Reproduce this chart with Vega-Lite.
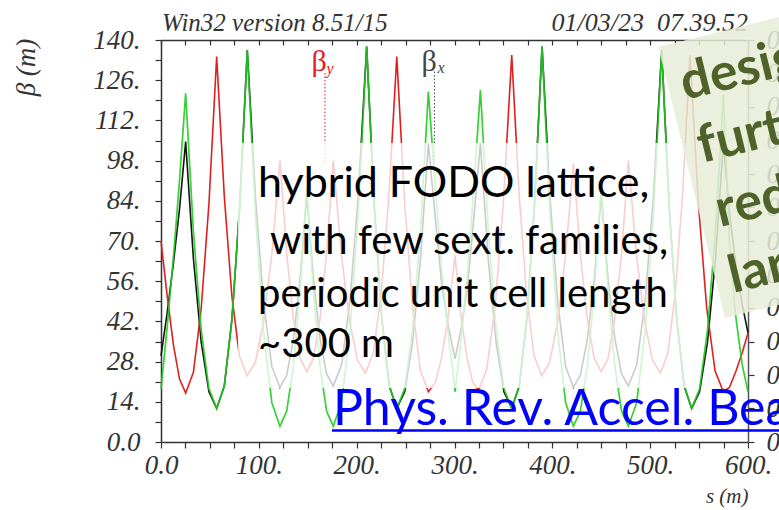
{
  "$schema": "https://vega.github.io/schema/vega-lite/v6.json",
  "width": 587,
  "height": 402,
  "autosize": {"type": "none"},
  "padding": {"left": 161, "top": 40, "right": 31, "bottom": 68},
  "background": "white",
  "config": {
    "view": {"stroke": null},
    "axis": {"grid": false, "labelFont": "Liberation Serif", "labelFontStyle": "italic", "labelColor": "#333", "tickColor": "#333", "domainColor": "#333", "titleFont": "Liberation Serif", "titleFontStyle": "italic", "titleFontWeight": "normal", "titleColor": "#333"}
  },
  "datasets": {
    "beta": [
      {"curve": "bx", "s": 0, "beta": 30}, {"curve": "bx", "s": 6.3, "beta": 45}, {"curve": "bx", "s": 12.6, "beta": 62}, {"curve": "bx", "s": 18.9, "beta": 81},
      {"curve": "bx", "s": 25.2, "beta": 104.6}, {"curve": "bx", "s": 33.1, "beta": 64}, {"curve": "bx", "s": 41.05, "beta": 34.9}, {"curve": "bx", "s": 48.98, "beta": 17.5},
      {"curve": "bx", "s": 56.9, "beta": 11.7}, {"curve": "bx", "s": 64.7, "beta": 19.5}, {"curve": "bx", "s": 72.55, "beta": 42.9}, {"curve": "bx", "s": 80.4, "beta": 81.9},
      {"curve": "bx", "s": 88.2, "beta": 136.5}, {"curve": "bx", "s": 96.55, "beta": 85.1}, {"curve": "bx", "s": 104.9, "beta": 48.4}, {"curve": "bx", "s": 113.25, "beta": 26.3},
      {"curve": "bx", "s": 121.6, "beta": 19}, {"curve": "bx", "s": 128.45, "beta": 23.2}, {"curve": "bx", "s": 135.3, "beta": 35.75}, {"curve": "bx", "s": 142.15, "beta": 56.7},
      {"curve": "bx", "s": 149, "beta": 86}, {"curve": "bx", "s": 155.8, "beta": 56.9}, {"curve": "bx", "s": 162.55, "beta": 36.1}, {"curve": "bx", "s": 169.3, "beta": 23.7},
      {"curve": "bx", "s": 176.1, "beta": 19.5}, {"curve": "bx", "s": 184.6, "beta": 26.9}, {"curve": "bx", "s": 193.15, "beta": 49.05}, {"curve": "bx", "s": 201.7, "beta": 86},
      {"curve": "bx", "s": 210.2, "beta": 137.7}, {"curve": "bx", "s": 217.9, "beta": 82.6}, {"curve": "bx", "s": 225.6, "beta": 43.2}, {"curve": "bx", "s": 233.3, "beta": 19.6},
      {"curve": "bx", "s": 241, "beta": 11.7}, {"curve": "bx", "s": 249.1, "beta": 17.5}, {"curve": "bx", "s": 257.15, "beta": 34.8}, {"curve": "bx", "s": 265.2, "beta": 63.6},
      {"curve": "bx", "s": 273.3, "beta": 104}, {"curve": "bx", "s": 280.1, "beta": 79}, {"curve": "bx", "s": 286.95, "beta": 55}, {"curve": "bx", "s": 293.8, "beta": 40},
      {"curve": "bx", "s": 300.6, "beta": 29}, {"curve": "bx", "s": 307.1, "beta": 40}, {"curve": "bx", "s": 313.55, "beta": 55}, {"curve": "bx", "s": 320, "beta": 79},
      {"curve": "bx", "s": 326.5, "beta": 104}, {"curve": "bx", "s": 334.5, "beta": 63.6}, {"curve": "bx", "s": 342.5, "beta": 34.8}, {"curve": "bx", "s": 350.5, "beta": 17.5},
      {"curve": "bx", "s": 358.5, "beta": 11.7}, {"curve": "bx", "s": 366.25, "beta": 19.6}, {"curve": "bx", "s": 374, "beta": 43.2}, {"curve": "bx", "s": 381.75, "beta": 82.6},
      {"curve": "bx", "s": 389.5, "beta": 137.7}, {"curve": "bx", "s": 397.5, "beta": 85.8}, {"curve": "bx", "s": 405.5, "beta": 48.7}, {"curve": "bx", "s": 413.5, "beta": 26.4},
      {"curve": "bx", "s": 421.5, "beta": 19}, {"curve": "bx", "s": 428.6, "beta": 23.2}, {"curve": "bx", "s": 435.75, "beta": 35.75}, {"curve": "bx", "s": 442.9, "beta": 56.7},
      {"curve": "bx", "s": 450, "beta": 86}, {"curve": "bx", "s": 456.9, "beta": 56.9}, {"curve": "bx", "s": 463.85, "beta": 36.1}, {"curve": "bx", "s": 470.8, "beta": 23.7},
      {"curve": "bx", "s": 477.7, "beta": 19.5}, {"curve": "bx", "s": 486.2, "beta": 26.8}, {"curve": "bx", "s": 494.75, "beta": 48.75}, {"curve": "bx", "s": 503.3, "beta": 85.3},
      {"curve": "bx", "s": 511.8, "beta": 136.5}, {"curve": "bx", "s": 519.45, "beta": 81.9}, {"curve": "bx", "s": 527.1, "beta": 42.9}, {"curve": "bx", "s": 534.75, "beta": 19.5},
      {"curve": "bx", "s": 542.4, "beta": 11.7}, {"curve": "bx", "s": 550.5, "beta": 17.5}, {"curve": "bx", "s": 558.6, "beta": 34.8}, {"curve": "bx", "s": 566.7, "beta": 63.6},
      {"curve": "bx", "s": 574.8, "beta": 104}, {"curve": "bx", "s": 581, "beta": 80}, {"curve": "bx", "s": 587.5, "beta": 62}, {"curve": "bx", "s": 594, "beta": 48},
      {"curve": "bx", "s": 600, "beta": 38},

      {"curve": "by", "s": 0, "beta": 70}, {"curve": "by", "s": 6.3, "beta": 51}, {"curve": "by", "s": 12.6, "beta": 34}, {"curve": "by", "s": 18.9, "beta": 22},
      {"curve": "by", "s": 25.2, "beta": 17}, {"curve": "by", "s": 33.1, "beta": 24.3}, {"curve": "by", "s": 41.05, "beta": 46.3}, {"curve": "by", "s": 48.98, "beta": 82.9},
      {"curve": "by", "s": 56.9, "beta": 134.2}, {"curve": "by", "s": 64.7, "beta": 85.55}, {"curve": "by", "s": 72.45, "beta": 50.8}, {"curve": "by", "s": 80.2, "beta": 29.95},
      {"curve": "by", "s": 88, "beta": 23}, {"curve": "by", "s": 96.4, "beta": 27.7}, {"curve": "by", "s": 104.8, "beta": 41.75}, {"curve": "by", "s": 113.2, "beta": 65.2},
      {"curve": "by", "s": 121.6, "beta": 98}, {"curve": "by", "s": 128.45, "beta": 65.8}, {"curve": "by", "s": 135.3, "beta": 42.9}, {"curve": "by", "s": 142.15, "beta": 29.1},
      {"curve": "by", "s": 149, "beta": 24.5}, {"curve": "by", "s": 155.8, "beta": 29.1}, {"curve": "by", "s": 162.55, "beta": 42.9}, {"curve": "by", "s": 169.3, "beta": 65.8},
      {"curve": "by", "s": 176.1, "beta": 98}, {"curve": "by", "s": 184.3, "beta": 65.6}, {"curve": "by", "s": 192.55, "beta": 42.5}, {"curve": "by", "s": 200.8, "beta": 28.6},
      {"curve": "by", "s": 209, "beta": 24}, {"curve": "by", "s": 217, "beta": 30.9}, {"curve": "by", "s": 225, "beta": 51.55}, {"curve": "by", "s": 233, "beta": 86},
      {"curve": "by", "s": 241, "beta": 134.2}, {"curve": "by", "s": 249.1, "beta": 83.1}, {"curve": "by", "s": 257.15, "beta": 46.7}, {"curve": "by", "s": 265.2, "beta": 24.8},
      {"curve": "by", "s": 273.3, "beta": 17.5}, {"curve": "by", "s": 280.1, "beta": 20.5}, {"curve": "by", "s": 286.9, "beta": 29.4}, {"curve": "by", "s": 293.7, "beta": 44.2},
      {"curve": "by", "s": 300.5, "beta": 65}, {"curve": "by", "s": 306.5, "beta": 44.4}, {"curve": "by", "s": 312.5, "beta": 29.9}, {"curve": "by", "s": 318.5, "beta": 20.9},
      {"curve": "by", "s": 324.5, "beta": 18}, {"curve": "by", "s": 333, "beta": 25.3}, {"curve": "by", "s": 341.5, "beta": 47.2}, {"curve": "by", "s": 350, "beta": 83.7},
      {"curve": "by", "s": 358.5, "beta": 134.8}, {"curve": "by", "s": 366.1, "beta": 85.9}, {"curve": "by", "s": 373.75, "beta": 50.95}, {"curve": "by", "s": 381.4, "beta": 30},
      {"curve": "by", "s": 389, "beta": 23}, {"curve": "by", "s": 397.1, "beta": 27.6}, {"curve": "by", "s": 405.25, "beta": 41.5}, {"curve": "by", "s": 413.4, "beta": 64.6},
      {"curve": "by", "s": 421.5, "beta": 97}, {"curve": "by", "s": 428.6, "beta": 65.3}, {"curve": "by", "s": 435.75, "beta": 42.6}, {"curve": "by", "s": 442.9, "beta": 29},
      {"curve": "by", "s": 450, "beta": 24.5}, {"curve": "by", "s": 456.9, "beta": 29.1}, {"curve": "by", "s": 463.85, "beta": 42.9}, {"curve": "by", "s": 470.8, "beta": 65.8},
      {"curve": "by", "s": 477.7, "beta": 98}, {"curve": "by", "s": 485.9, "beta": 65.6}, {"curve": "by", "s": 494.1, "beta": 42.5}, {"curve": "by", "s": 502.3, "beta": 28.6},
      {"curve": "by", "s": 510.5, "beta": 24}, {"curve": "by", "s": 518.05, "beta": 30.9}, {"curve": "by", "s": 525.6, "beta": 51.7}, {"curve": "by", "s": 533.15, "beta": 86.3},
      {"curve": "by", "s": 540.7, "beta": 134.8}, {"curve": "by", "s": 549.2, "beta": 83.5}, {"curve": "by", "s": 557.75, "beta": 46.8}, {"curve": "by", "s": 566.3, "beta": 24.8},
      {"curve": "by", "s": 574.8, "beta": 17.5}, {"curve": "by", "s": 581, "beta": 19}, {"curve": "by", "s": 588, "beta": 25}, {"curve": "by", "s": 594, "beta": 31},
      {"curve": "by", "s": 600, "beta": 38},

      {"curve": "bx2", "s": 0, "beta": 18.5}, {"curve": "bx2", "s": 6.3, "beta": 40}, {"curve": "bx2", "s": 12.6, "beta": 64}, {"curve": "bx2", "s": 18.9, "beta": 91},
      {"curve": "bx2", "s": 25.2, "beta": 121.4}, {"curve": "bx2", "s": 33.1, "beta": 73.4}, {"curve": "bx2", "s": 41.05, "beta": 39.1}, {"curve": "bx2", "s": 48.98, "beta": 18.6},
      {"curve": "bx2", "s": 56.9, "beta": 11.7}, {"curve": "bx2", "s": 64.7, "beta": 19.5}, {"curve": "bx2", "s": 72.55, "beta": 42.9}, {"curve": "bx2", "s": 80.4, "beta": 81.9},
      {"curve": "bx2", "s": 88.2, "beta": 136.5}, {"curve": "bx2", "s": 96.55, "beta": 79.2}, {"curve": "bx2", "s": 104.9, "beta": 38.25}, {"curve": "bx2", "s": 113.25, "beta": 13.7},
      {"curve": "bx2", "s": 121.6, "beta": 5.5}, {"curve": "bx2", "s": 128.45, "beta": 10.7}, {"curve": "bx2", "s": 135.3, "beta": 26.4}, {"curve": "bx2", "s": 142.15, "beta": 52.5},
      {"curve": "bx2", "s": 149, "beta": 89}, {"curve": "bx2", "s": 155.8, "beta": 52.5}, {"curve": "bx2", "s": 162.55, "beta": 26.4}, {"curve": "bx2", "s": 169.3, "beta": 10.7},
      {"curve": "bx2", "s": 176.1, "beta": 5.5}, {"curve": "bx2", "s": 184.6, "beta": 13.8}, {"curve": "bx2", "s": 193.15, "beta": 38.5}, {"curve": "bx2", "s": 201.7, "beta": 79.9},
      {"curve": "bx2", "s": 210.2, "beta": 137.7}, {"curve": "bx2", "s": 217.9, "beta": 82.6}, {"curve": "bx2", "s": 225.6, "beta": 43.2}, {"curve": "bx2", "s": 233.3, "beta": 19.6},
      {"curve": "bx2", "s": 241, "beta": 11.7}, {"curve": "bx2", "s": 249.1, "beta": 18.6}, {"curve": "bx2", "s": 257.15, "beta": 39.3}, {"curve": "bx2", "s": 265.2, "beta": 73.7},
      {"curve": "bx2", "s": 273.3, "beta": 122}, {"curve": "bx2", "s": 280.1, "beta": 90}, {"curve": "bx2", "s": 286.95, "beta": 60}, {"curve": "bx2", "s": 293.8, "beta": 37},
      {"curve": "bx2", "s": 300.6, "beta": 17.5}, {"curve": "bx2", "s": 307.1, "beta": 37}, {"curve": "bx2", "s": 313.55, "beta": 60}, {"curve": "bx2", "s": 320, "beta": 90},
      {"curve": "bx2", "s": 326.5, "beta": 122.6}, {"curve": "bx2", "s": 334.5, "beta": 74.1}, {"curve": "bx2", "s": 342.5, "beta": 39.4}, {"curve": "bx2", "s": 350.5, "beta": 18.6},
      {"curve": "bx2", "s": 358.5, "beta": 11.7}, {"curve": "bx2", "s": 366.25, "beta": 19.6}, {"curve": "bx2", "s": 374, "beta": 43.2}, {"curve": "bx2", "s": 381.75, "beta": 82.6},
      {"curve": "bx2", "s": 389.5, "beta": 137.7}, {"curve": "bx2", "s": 397.5, "beta": 79.9}, {"curve": "bx2", "s": 405.5, "beta": 38.5}, {"curve": "bx2", "s": 413.5, "beta": 13.8},
      {"curve": "bx2", "s": 421.5, "beta": 5.5}, {"curve": "bx2", "s": 428.6, "beta": 10.7}, {"curve": "bx2", "s": 435.75, "beta": 26.4}, {"curve": "bx2", "s": 442.9, "beta": 52.5},
      {"curve": "bx2", "s": 450, "beta": 89}, {"curve": "bx2", "s": 456.9, "beta": 52.5}, {"curve": "bx2", "s": 463.85, "beta": 26.4}, {"curve": "bx2", "s": 470.8, "beta": 10.7},
      {"curve": "bx2", "s": 477.7, "beta": 5.5}, {"curve": "bx2", "s": 486.2, "beta": 13.7}, {"curve": "bx2", "s": 494.75, "beta": 38.25}, {"curve": "bx2", "s": 503.3, "beta": 79.2},
      {"curve": "bx2", "s": 511.8, "beta": 136.5}, {"curve": "bx2", "s": 519.45, "beta": 81.9}, {"curve": "bx2", "s": 527.1, "beta": 42.9}, {"curve": "bx2", "s": 534.75, "beta": 19.5},
      {"curve": "bx2", "s": 542.4, "beta": 11.7}, {"curve": "bx2", "s": 550.5, "beta": 18.5}, {"curve": "bx2", "s": 558.6, "beta": 39}, {"curve": "bx2", "s": 566.7, "beta": 73.1},
      {"curve": "bx2", "s": 574.8, "beta": 120.8}, {"curve": "bx2", "s": 581, "beta": 70}, {"curve": "bx2", "s": 587, "beta": 45}, {"curve": "bx2", "s": 594, "beta": 27},
      {"curve": "bx2", "s": 600, "beta": 17.5}
    ],
    "legendLines": [
      {"kind": "by", "s": 167.6, "top": 128.5, "bottom": 97},
      {"kind": "bx", "s": 279.5, "top": 129, "bottom": 97}
    ],
    "notes": [
      {"kind": "header", "s": 1, "beta": 143.2, "text": "Win32 version 8.51/15"},
      {"kind": "stamp", "s": 600, "beta": 143.2, "text": "01/03/23\u00a0 07.39.52"},
      {"kind": "betaY", "s": 153.8, "beta": 129.2, "text": "β"},
      {"kind": "subY", "s": 169.2, "beta": 128.2, "text": "y"},
      {"kind": "betaX", "s": 266.3, "beta": 129.2, "text": "β"},
      {"kind": "subX", "s": 282.6, "beta": 128.4, "text": "x"},
      {"kind": "lead", "s": 99.2, "beta": 85.3, "text": "hybrid FODO lattice,"},
      {"kind": "body", "s": 111.4, "beta": 65.5, "text": "with few sext. families,"},
      {"kind": "body", "s": 99.2, "beta": 47.0, "text": "periodic unit cell length"},
      {"kind": "body", "s": 99.2, "beta": 29.6, "text": "~300 m"},
      {"kind": "link", "s": 175.8, "beta": 5.9, "text": "Phys. Rev. Accel. Beams"},
      {"kind": "boxed", "s": 535.6, "beta": 119.1, "text": "design"},
      {"kind": "boxed", "s": 553.0, "beta": 97.2, "text": "further"},
      {"kind": "boxed", "s": 571.4, "beta": 74.9, "text": "reduce"},
      {"kind": "boxed", "s": 584.7, "beta": 51.9, "text": "larger"}
    ],
    "panel": [
      {"s0": 78.7, "s1": 542.8, "b0": 18.8, "b1": 104.1}
    ],
    "underline": [
      {"s0": 174.8, "s1": 640, "beta": 4.0}
    ],
    "callout": [
      {"s": 508.3, "lo": 137.6, "hi": 137.6},
      {"s": 576.5, "lo": 43.2, "hi": 143.35},
      {"s": 660, "lo": 50.2, "hi": 150.4}
    ]
  },
  "resolve": {"axis": {"x": "independent", "y": "independent"}},
  "layer": [
    {
      "data": {"name": "beta"},
      "transform": [{"filter": "datum.curve === 'bx'"}],
      "mark": {"type": "line", "color": "#151515", "strokeWidth": 1.6},
      "encoding": {
        "x": {"field": "s", "type": "quantitative", "scale": {"domain": [0, 600], "nice": false, "zero": false},
          "axis": {"orient": "bottom", "values": [0, 25, 50, 75, 100, 125, 150, 175, 200, 225, 250, 275, 300, 325, 350, 375, 400, 425, 450, 475, 500, 525, 550, 575, 600],
            "labelExpr": "datum.value % 100 === 0 ? (datum.value === 0 ? '0.0' : datum.value + '.') : ''",
            "tickSize": 6, "tickWidth": 1.2, "domainWidth": 1.5, "labelFontSize": 27, "labelPadding": 4,
            "labelFlush": false, "labelOverlap": false, "labelBound": false,
            "title": "s (m)", "titleFontSize": 21, "titleX": 587, "titleY": 60, "titleAlign": "right", "titleBaseline": "alphabetic"}},
        "y": {"field": "beta", "type": "quantitative", "scale": {"domain": [0, 140], "nice": false},
          "axis": {"orient": "left", "values": [0, 7, 14, 21, 28, 35, 42, 49, 56, 63, 70, 77, 84, 91, 98, 105, 112, 119, 126, 133, 140],
            "labelExpr": "datum.value % 14 === 0 ? (datum.value === 0 ? '0.0' : datum.value + '.') : ''",
            "tickSize": 6, "tickWidth": 1.2, "domainWidth": 1.5, "labelFontSize": 27, "labelPadding": 15,
            "labelOverlap": false, "labelBound": false, "labelFlush": false,
            "title": "β (m)", "titleFontSize": 27, "titleAngle": 270, "titleX": -135, "titleY": 27, "titleAlign": "center", "titleBaseline": "middle"}}
      }
    },
    {
      "data": {"name": "beta"},
      "transform": [{"filter": "datum.curve === 'by'"}],
      "mark": {"type": "line", "color": "#e02020", "strokeWidth": 1.6},
      "encoding": {
        "x": {"field": "s", "type": "quantitative", "scale": {"domain": [0, 600], "nice": false, "zero": false},
          "axis": {"orient": "top", "values": [0, 25, 50, 75, 100, 125, 150, 175, 200, 225, 250, 275, 300, 325, 350, 375, 400, 425, 450, 475, 500, 525, 550, 575, 600],
            "labels": false, "tickSize": -5, "tickWidth": 1.2, "domainWidth": 1.5, "title": null}},
        "y": {"field": "beta", "type": "quantitative", "scale": {"domain": [0, 140], "nice": false},
          "axis": {"orient": "right", "values": [0, 11.6667, 23.3333, 35, 46.6667, 58.3333, 70, 81.6667, 93.3333, 105, 116.6667, 128.3333, 140],
            "labelExpr": "format(datum.value * 0.6 / 140, '.2f')", "labelAlign": "left",
            "tickSize": 6, "tickWidth": 1.2, "domainWidth": 1.5, "domainColor": "#555", "labelFontSize": 27, "labelPadding": 12,
            "labelOverlap": false, "labelBound": false, "labelFlush": false, "title": null}}
      }
    },
    {
      "data": {"name": "beta"},
      "transform": [{"filter": "datum.curve === 'bx2'"}],
      "mark": {"type": "line", "color": "#1fcc1f", "strokeWidth": 1.7, "opacity": 0.9},
      "encoding": {
        "x": {"field": "s", "type": "quantitative", "scale": {"domain": [0, 600], "nice": false, "zero": false}, "axis": null},
        "y": {"field": "beta", "type": "quantitative", "scale": {"domain": [0, 140], "nice": false}, "axis": null}
      }
    },
    {
      "data": {"name": "legendLines"},
      "mark": {"type": "rule", "strokeWidth": 1, "strokeDash": [1.5, 2]},
      "encoding": {
        "x": {"field": "s", "type": "quantitative", "axis": null},
        "y": {"field": "top", "type": "quantitative", "axis": null},
        "y2": {"field": "bottom"},
        "color": {"field": "kind", "type": "nominal", "scale": {"domain": ["by", "bx"], "range": ["#e02020", "#444444"]}, "legend": null}
      }
    },
    {
      "data": {"name": "notes"},
      "transform": [{"filter": "datum.kind === 'betaY' || datum.kind === 'betaX'"}],
      "mark": {"type": "text", "font": "Liberation Serif", "fontSize": 30, "align": "left", "baseline": "alphabetic"},
      "encoding": {
        "x": {"field": "s", "type": "quantitative", "axis": null},
        "y": {"field": "beta", "type": "quantitative", "axis": null},
        "text": {"field": "text"},
        "color": {"field": "kind", "type": "nominal", "scale": {"domain": ["betaY", "betaX"], "range": ["#e02020", "#222222"]}, "legend": null}
      }
    },
    {
      "data": {"name": "notes"},
      "transform": [{"filter": "datum.kind === 'subY' || datum.kind === 'subX'"}],
      "mark": {"type": "text", "font": "Liberation Serif", "fontStyle": "italic", "fontSize": 16, "align": "left", "baseline": "alphabetic"},
      "encoding": {
        "x": {"field": "s", "type": "quantitative", "axis": null},
        "y": {"field": "beta", "type": "quantitative", "axis": null},
        "text": {"field": "text"},
        "color": {"field": "kind", "type": "nominal", "scale": {"domain": ["subY", "subX"], "range": ["#e02020", "#222222"]}, "legend": null}
      }
    },
    {
      "data": {"name": "notes"},
      "transform": [{"filter": "datum.kind === 'header'"}],
      "mark": {"type": "text", "font": "Liberation Serif", "fontStyle": "italic", "fontSize": 25, "align": "left", "baseline": "alphabetic", "color": "#333"},
      "encoding": {
        "x": {"field": "s", "type": "quantitative", "axis": null},
        "y": {"field": "beta", "type": "quantitative", "axis": null},
        "text": {"field": "text"}
      }
    },
    {
      "data": {"name": "notes"},
      "transform": [{"filter": "datum.kind === 'stamp'"}],
      "mark": {"type": "text", "font": "Liberation Serif", "fontStyle": "italic", "fontSize": 26, "align": "right", "baseline": "alphabetic", "color": "#333"},
      "encoding": {
        "x": {"field": "s", "type": "quantitative", "axis": null},
        "y": {"field": "beta", "type": "quantitative", "axis": null},
        "text": {"field": "text"}
      }
    },
    {
      "data": {"name": "panel"},
      "mark": {"type": "rect", "color": "white", "opacity": 0.78},
      "encoding": {
        "x": {"field": "s0", "type": "quantitative", "axis": null},
        "x2": {"field": "s1"},
        "y": {"field": "b0", "type": "quantitative", "axis": null},
        "y2": {"field": "b1"}
      }
    },
    {
      "data": {"name": "notes"},
      "transform": [{"filter": "datum.kind === 'lead'"}],
      "mark": {"type": "text", "font": "Lato", "fontSize": 43, "align": "left", "baseline": "alphabetic", "color": "black"},
      "encoding": {
        "x": {"field": "s", "type": "quantitative", "axis": null},
        "y": {"field": "beta", "type": "quantitative", "axis": null},
        "text": {"field": "text"}
      }
    },
    {
      "data": {"name": "notes"},
      "transform": [{"filter": "datum.kind === 'body'"}],
      "mark": {"type": "text", "font": "Lato", "fontSize": 40, "align": "left", "baseline": "alphabetic", "color": "black"},
      "encoding": {
        "x": {"field": "s", "type": "quantitative", "axis": null},
        "y": {"field": "beta", "type": "quantitative", "axis": null},
        "text": {"field": "text"}
      }
    },
    {
      "data": {"name": "notes"},
      "transform": [{"filter": "datum.kind === 'link'"}],
      "mark": {"type": "text", "font": "Lato", "fontSize": 50, "align": "left", "baseline": "alphabetic", "color": "#0000ff"},
      "encoding": {
        "x": {"field": "s", "type": "quantitative", "axis": null},
        "y": {"field": "beta", "type": "quantitative", "axis": null},
        "text": {"field": "text"}
      }
    },
    {
      "data": {"name": "underline"},
      "mark": {"type": "rule", "color": "#0000ff", "strokeWidth": 2.5},
      "encoding": {
        "x": {"field": "s0", "type": "quantitative", "axis": null},
        "x2": {"field": "s1"},
        "y": {"field": "beta", "type": "quantitative", "axis": null}
      }
    },
    {
      "data": {"name": "callout"},
      "mark": {"type": "area", "color": "#e6ecd9", "opacity": 0.86},
      "encoding": {
        "x": {"field": "s", "type": "quantitative", "axis": null},
        "y": {"field": "lo", "type": "quantitative", "axis": null},
        "y2": {"field": "hi"}
      }
    },
    {
      "data": {"name": "notes"},
      "transform": [{"filter": "datum.kind === 'boxed'"}],
      "mark": {"type": "text", "font": "Lato", "fontWeight": "bold", "fontSize": 52, "align": "left", "baseline": "alphabetic", "angle": 346.3, "color": "#4f6228"},
      "encoding": {
        "x": {"field": "s", "type": "quantitative", "axis": null},
        "y": {"field": "beta", "type": "quantitative", "axis": null},
        "text": {"field": "text"}
      }
    }
  ]
}
